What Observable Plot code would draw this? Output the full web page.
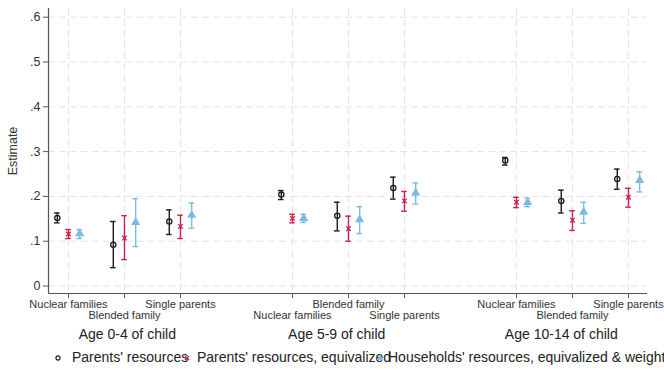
<!DOCTYPE html>
<html>
<head>
<meta charset="utf-8">
<script src="https://cdn.jsdelivr.net/npm/d3@7"></script>
<script src="https://cdn.jsdelivr.net/npm/@observablehq/plot@0.6"></script>
<style>
  body { margin: 0; background: #fff; font-family: "Liberation Sans", Arial, sans-serif; }
  #chart { width: 664px; }
  .legend { position: relative; width: 664px; height: 25px; overflow: hidden; font-size: 14px; color: #222; white-space: nowrap; }
  .legend .lab { position: absolute; top: 4px; line-height: 16px; }
  .legend svg { position: absolute; top: 0; }
</style>
</head>
<body>
<div id="chart"></div>
<div class="legend" id="legend"></div>
<script>
// Age groups (panels along the x axis) and family types within each group
const ageGroups = ["Age 0-4 of child", "Age 5-9 of child", "Age 10-14 of child"];
const familyTypes = ["Nuclear families", "Blended family", "Single parents"];
const seriesNames = [
  "Parents' resources",
  "Parents' resources, equivalized",
  "Households' resources, equivalized & weight"
];

// Point estimates and 95% bounds, ordered group by group, family type within group
const parentsEst = [0.152, 0.092, 0.144, 0.204, 0.157, 0.219, 0.280, 0.190, 0.239];
const parentsLo  = [0.141, 0.041, 0.115, 0.193, 0.123, 0.194, 0.270, 0.163, 0.216];
const parentsHi  = [0.163, 0.144, 0.170, 0.213, 0.187, 0.243, 0.287, 0.214, 0.261];

const equivEst = [0.116, 0.107, 0.133, 0.151, 0.128, 0.190, 0.187, 0.147, 0.198];
const equivLo  = [0.106, 0.059, 0.106, 0.141, 0.100, 0.167, 0.175, 0.124, 0.176];
const equivHi  = [0.126, 0.157, 0.158, 0.160, 0.156, 0.211, 0.198, 0.168, 0.218];

const householdEst = [0.117, 0.142, 0.158, 0.151, 0.148, 0.208, 0.187, 0.165, 0.236];
const householdLo  = [0.106, 0.088, 0.129, 0.142, 0.117, 0.183, 0.177, 0.140, 0.210];
const householdHi  = [0.126, 0.195, 0.185, 0.160, 0.177, 0.230, 0.196, 0.187, 0.255];

const yTicks = [0, 0.1, 0.2, 0.3, 0.4, 0.5, 0.6];

// Styling
const colors = ["#1c1c1c", "#cc1a55", "#7dbae3"];
const seriesOffset = [-0.2, 0, 0.2];   // horizontal dodge per series (in slot units)
const capHalf = 0.05;                  // half-width of error bar caps
const slotsPerGroup = 4;               // 3 family types + 1 empty slot between groups
const titleShift = [0.05, -0.21, -0.2];

const estimates = [
  [parentsEst, parentsLo, parentsHi],
  [equivEst, equivLo, equivHi],
  [householdEst, householdLo, householdHi]
];

const rows = [];
estimates.forEach(([est, lo, hi], s) => {
  est.forEach((v, i) => {
    const g = Math.floor(i / familyTypes.length);
    const f = i % familyTypes.length;
    const slot = g * slotsPerGroup + f;
    rows.push({series: seriesNames[s], s, slot, x: slot + seriesOffset[s], est: v, lo: lo[i], hi: hi[i]});
  });
});

const slots = [];
ageGroups.forEach((_, g) => familyTypes.forEach((_, f) => slots.push(g * slotsPerGroup + f)));
const slotLabel = (t) => familyTypes[t % slotsPerGroup];
const rowOne = slots.filter((_, i) => i % 2 === 0);
const rowTwo = slots.filter((_, i) => i % 2 === 1);

const yFmt = (d) => d === 0 ? "0" : d3.format(".1f")(d).replace(/^0/, "");
const gridStyle = {stroke: "#e4e4e4", strokeOpacity: 1, strokeDasharray: "7,4", strokeWidth: 1};

const plot = Plot.plot({
  width: 664,
  height: 345,
  marginLeft: 48,
  marginRight: 17,
  marginTop: 8,
  marginBottom: 52,
  style: {fontFamily: "'Liberation Sans', Arial, sans-serif", color: "#333", background: "#fff"},
  x: {domain: [-0.357, 10.34], axis: null},
  y: {domain: [-0.0167, 0.6194], axis: null},
  color: {domain: seriesNames, range: colors},
  marks: [
    Plot.gridY(yTicks, gridStyle),
    Plot.gridX(slots, gridStyle),
    Plot.ruleX([-0.357], {stroke: "#555", strokeWidth: 1.2}),
    Plot.ruleY([-0.0167], {stroke: "#555", strokeWidth: 1.2}),
    Plot.axisY(yTicks, {
      tickFormat: yFmt, tickSize: 5, tickPadding: 3, fontSize: 12.5, stroke: "#555",
      label: "Estimate", labelAnchor: "center", labelArrow: "none", labelOffset: 40
    }),
    Plot.axisX(rowOne, {tickFormat: slotLabel, tickSize: 5, tickPadding: 2, fontSize: 11, stroke: "#555", label: null}),
    Plot.axisX(rowTwo, {tickFormat: slotLabel, tickSize: 5, tickPadding: 13, fontSize: 11, stroke: "#555", label: null}),
    Plot.text(ageGroups, {
      x: (d, i) => i * slotsPerGroup + 1 + titleShift[i],
      frameAnchor: "bottom", dy: 41, lineAnchor: "middle",
      text: (d) => d, fontSize: 14, fill: "#222"
    }),
    // confidence intervals
    Plot.ruleX(rows, {x: "x", y1: "lo", y2: "hi", stroke: "series", strokeWidth: 1.4}),
    Plot.ruleY(rows, {y: "hi", x1: (d) => d.x - capHalf, x2: (d) => d.x + capHalf, stroke: "series", strokeWidth: 1.4}),
    Plot.ruleY(rows, {y: "lo", x1: (d) => d.x - capHalf, x2: (d) => d.x + capHalf, stroke: "series", strokeWidth: 1.4}),
    // point estimates
    Plot.dot(rows.filter((d) => d.s === 0), {x: "x", y: "est", symbol: "circle", r: 2.6, stroke: colors[0], strokeWidth: 1.3, fill: "none"}),
    Plot.dot(rows.filter((d) => d.s === 1), {x: "x", y: "est", symbol: "times", r: 2.2, stroke: colors[1], strokeWidth: 1.3}),
    Plot.dot(rows.filter((d) => d.s === 2), {x: "x", y: "est", symbol: "triangle", r: 3.4, fill: colors[2], stroke: "none"})
  ]
});
document.getElementById("chart").append(plot);

// Legend row: symbol + label per series
const legendItems = [
  {sym: "circle", symX: 58, textX: 72},
  {sym: "times", symX: 187, textX: 197},
  {sym: "triangle", symX: 380, textX: 388}
];
const legend = d3.select("#legend");
legendItems.forEach((item, i) => {
  const svg = legend.append("svg").attr("width", 12).attr("height", 25)
    .style("left", (item.symX - 6) + "px");
  const path = d3.symbol(item.sym === "circle" ? d3.symbolCircle : item.sym === "times" ? d3.symbolTimes : d3.symbolTriangle,
    item.sym === "triangle" ? 20 : 14)();
  svg.append("path").attr("d", path).attr("transform", "translate(6,13)")
    .attr("fill", item.sym === "triangle" ? colors[i] : "none")
    .attr("stroke", item.sym === "triangle" ? "none" : colors[i])
    .attr("stroke-width", 1.2);
  legend.append("span").attr("class", "lab").style("left", item.textX + "px").text(seriesNames[i]);
});
</script>
</body>
</html>
